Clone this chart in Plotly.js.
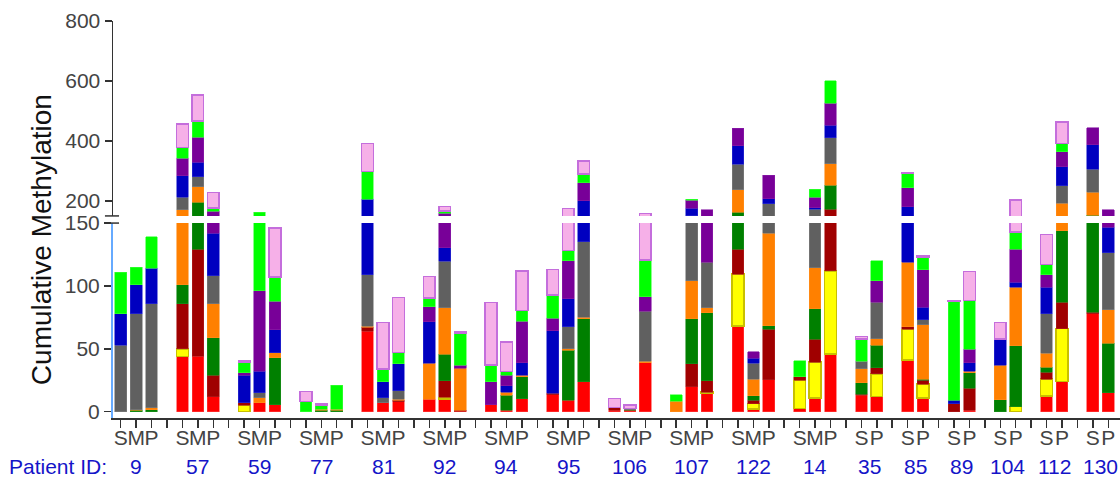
<!DOCTYPE html>
<html><head><meta charset="utf-8">
<script src="https://cdn.plot.ly/plotly-3.0.1.min.js"></script>
<style>html,body{margin:0;padding:0;background:#fff}#chart{width:1120px;height:478px}</style>
</head><body><div id="chart"></div>
<script>
const patients = ['9','57','59','77','81','92','94','95','106','107','122','14','35','85','89','104','112','130'];
const sampleTypes = ['SMP','SMP','SMP','SMP','SMP','SMP','SMP','SMP','SMP','SMP','SMP','SMP','SP','SP','SP','SP','SP','SP'];

// one value per bar, bars in order of patients/sampleTypes
const red     = [0,0,0, 44,44,12, 0,7,5.5, 0,0,0, 64,7,8, 10,10,0.5, 5.5,1,10.5, 13.5,9,24, 1,1,39, 0,20,15, 68,2,25.5, 2.5,11,46, 13,12, 41,11, 0,1, 0,0, 12.5,24, 78,15];
const yellow  = [0,0,0, 6,0,0, 5,0,0, 0,0,0, 0,0,0, 0,1.5,0, 0,0,0, 0,0,0, 0,0,0, 0,0,0.5, 41.5,4.5,0, 22.5,28.5,66, 0,18, 24.5,11, 0,0, 0,4, 13.5,42, 0,0];
const darkRed = [0,0,0, 36,85,17, 2,0,0, 0,0,0, 3,0,1, 0,13,0.5, 0,0,0, 1,0,0, 2,0,0, 0,18,9, 19.5,2.5,40, 3,18,61, 1,5, 2,3, 6.5,17.5, 0,0, 5.5,21, 1,0];
const dkGreen = [0,1,1.5, 15,67,30, 0,0,37.5, 0,1,1, 0,0,0, 0,21,0, 0,12,17.5, 0,40,50, 0,0.5,0, 0,36,54, 34,3.5,3, 0,24.5,80, 9,18, 0,1, 0,12.5, 9.5,48.5, 4,57, 74,39.5];
const orange  = [0,0.5,1.5, 69,52,27, 0,4,4, 0,1,1, 1,0,1, 28.5,37,33.5, 0,2.5,1, 0,1,1, 0.5,0,1, 8.5,30,4, 74,13.5,73.5, 0,32.5,71, 11,5, 51.5,43, 0,1, 27.5,46.5, 11,48, 76,26.5];
const gray    = [53,76.5,83, 42,33,22, 0,4,0, 0,0,0, 41,4,6.5, 0,37,0, 0,0,0, 0,17.5,60, 0,1,40, 0,47,36.5, 86,12.5,48, 0,58,87, 6,29, 0,4, 0,0, 0,0, 31.5,59, 77,45.5];
const blue    = [25,23,28, 72,48,34, 22,17,18, 0,0,0, 97,13,21.5, 33,11,0, 0,5,10, 50,22.5,65, 0,0,0, 0,24,0, 61,4,17, 0,4.5,41, 0,0, 62,10, 2.5,7, 21,4, 21,63, 81,20];
const purple  = [0,0,0, 59,83,24, 2,64,23, 0,0,0, 0,0,0, 12,28,2.5, 18.5,8.5,33, 10,30,61, 0,0,11.5, 0,28,51.5, 58,5,79, 0,34.5,74, 0,17, 63,30, 0,10.5, 0,26, 10,50, 57,23.5];
const green   = [33,14,25, 36,54,10, 8,67,19, 8,3,19, 92,10,9, 7,8,25, 13,3,8.5, 18.5,8,28, 0,0,29, 5,3,0, 0,0,0, 12.5,28,74, 18,16, 48,10, 78.5,39, 0,14, 8,28, 0,0];
const pink    = [0,0,0, 77,87,52, 1.5,0,39, 8,1,0, 93,37,44, 17,15,1.5, 50,23.5,31.5, 20,46.5,45, 7,3,37.5, 0,0,0, 0,0,0, 0,0,0, 2,0, 2,1, 0.5,23, 13,60, 24,72, 0,0];

const series = [
  {name:'red', v:red, fill:'#ff0000', line:'#ff4040', w:0.6},
  {name:'yellow', v:yellow, fill:'#ffff00', line:'#c8c000', w:1.5},
  {name:'darkRed', v:darkRed, fill:'#a00000', line:'#b02020', w:0.6},
  {name:'dkGreen', v:dkGreen, fill:'#008000', line:'#209020', w:0.6},
  {name:'orange', v:orange, fill:'#ff8000', line:'#ff9020', w:0.6},
  {name:'gray', v:gray, fill:'#606060', line:'#808080', w:0.6},
  {name:'blue', v:blue, fill:'#0000c0', line:'#3030d0', w:0.6},
  {name:'purple', v:purple, fill:'#780098', line:'#8a20a8', w:0.6},
  {name:'green', v:green, fill:'#00ff00', line:'#40ff40', w:0.6},
  {name:'pink', v:pink, fill:'#f6b0e8', line:'#c46edc', w:1.5}
];

const xs = [], tickvals = [], ticktext = [], centers = [];
let slot = 0;
patients.forEach((p, i) => {
  const start = slot;
  for (const c of sampleTypes[i]) { xs.push(slot); tickvals.push(slot); ticktext.push(c); slot++; }
  centers.push((start + slot - 1) / 2);
  tickvals.push(slot); ticktext.push(''); slot++;
});

const traces = [];
['y', 'y2'].forEach(ax => {
  series.forEach(s => {
    traces.push({
      type: 'bar', x: xs, y: s.v.map(v => v === 0 ? null : v),
      xaxis: 'x', yaxis: ax, width: 0.76, name: s.name,
      marker: {color: s.fill, line: {color: s.line, width: s.w}},
      hoverinfo: 'skip', showlegend: false
    });
  });
});

const annotations = patients.map((p, i) => ({
  text: p, xref: 'x', x: centers[i], yref: 'paper', y: -0.121, yanchor: 'middle',
  showarrow: false, font: {size: 21, color: '#1414c8'}
}));
annotations.push({text: 'Patient ID:', xref: 'paper', x: 0, xanchor: 'right', xshift: -4,
  yref: 'paper', y: -0.121, yanchor: 'middle', showarrow: false, font: {size: 21, color: '#1414c8'}});
annotations.push({text: 'Cumulative Methylation', xref: 'paper', x: 0, xshift: -72, xanchor: 'center',
  yref: 'paper', y: 0.448, yanchor: 'middle', textangle: -90, showarrow: false, font: {size: 28, color: '#111'}});

const layout = {
  width: 1120, height: 478,
  margin: {l: 113, r: 0, t: 21, b: 60},
  barmode: 'stack', bargap: 0, showlegend: false,
  plot_bgcolor: '#fff', paper_bgcolor: '#fff',
  font: {family: 'Liberation Sans, Arial, sans-serif', size: 21, color: '#444'},
  xaxis: {range: [-0.5, 64.76], tickmode: 'array', tickvals: tickvals, ticktext: ticktext, tickangle: 0,
    ticklabelstandoff: -8,
    ticks: 'outside', ticklen: 8, tickwidth: 1.5, tickcolor: '#333', showline: true, linecolor: '#333',
    linewidth: 1.5, showgrid: false, zeroline: false, anchor: 'y', tickfont: {size: 21, color: '#444'}},
  yaxis: {domain: [0, 0.491], range: [-5, 150], tickmode: 'array', tickvals: [0, 50, 100, 150],
    ticks: 'outside', ticklen: 7, tickwidth: 1.5, tickcolor: '#333', showline: true, linecolor: '#66aaff',
    linewidth: 2, showgrid: false, zeroline: false, anchor: 'x', tickfont: {size: 21, color: '#444'}},
  yaxis2: {domain: [0.509, 1], range: [150, 800], tickmode: 'array', tickvals: [200, 400, 600, 800],
    ticks: 'outside', ticklen: 7, tickwidth: 1.5, tickcolor: '#333', showline: true, linecolor: '#333',
    linewidth: 1.5, showgrid: false, zeroline: false, anchor: 'x', tickfont: {size: 21, color: '#444'}},
  shapes: [
    {type: 'line', xref: 'paper', yref: 'paper', x0: -0.008, x1: 0.006, y0: 0.509, y1: 0.509, line: {color: '#333', width: 1.5}},
    {type: 'line', xref: 'paper', yref: 'paper', x0: -0.008, x1: 0.006, y0: 0.491, y1: 0.491, line: {color: '#333', width: 1.5}}
  ],
  annotations: annotations
};

Plotly.newPlot('chart', traces, layout, {displayModeBar: false, staticPlot: true});
</script>
</body></html>
